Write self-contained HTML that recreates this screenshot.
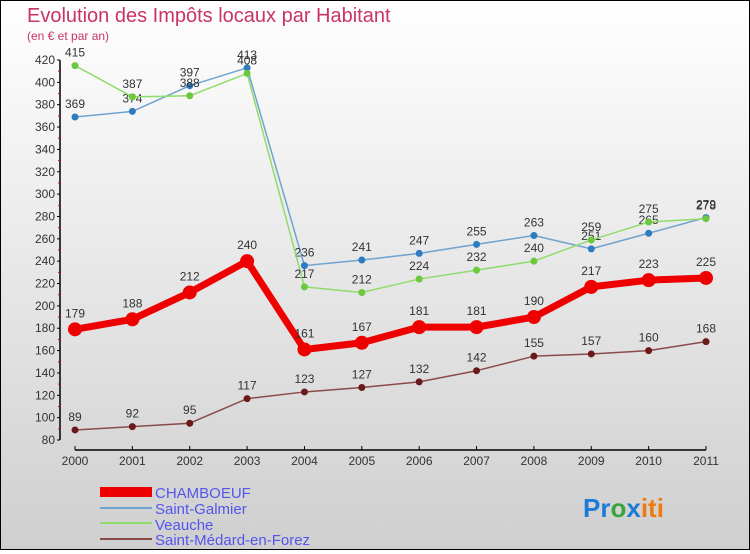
<!DOCTYPE html>
<html><head><meta charset="utf-8">
<style>
html,body{margin:0;padding:0}
body{width:750px;height:550px;overflow:hidden;font-family:"Liberation Sans",sans-serif}
#wrap{position:relative;width:748px;height:548px;border:1px solid #000;background:linear-gradient(#ffffff,#cfcfcf)}
</style></head><body>
<div id="wrap">
<svg id="chart" width="748" height="548" viewBox="1 1 748 548">
<text x="27" y="22" font-size="20" fill="#c8336a">Evolution des Impôts locaux par Habitant</text>
<text x="27" y="40" font-size="12" fill="#c8336a">(en € et par an)</text>
<g id="axes"></g>
<g id="series"></g>
<g id="legend">
<rect x="100" y="487" width="52" height="10" fill="#e00"/>
<text x="155" y="498" font-size="15" fill="#5555ee">CHAMBOEUF</text>
<rect x="100" y="507" width="52" height="2" fill="#6fa3d0"/>
<text x="155" y="514" font-size="15" fill="#5555ee">Saint-Galmier</text>
<rect x="100" y="522" width="52" height="2" fill="#8fdc6c"/>
<text x="155" y="530" font-size="15" fill="#5555ee">Veauche</text>
<rect x="100" y="538" width="52" height="2" fill="#8a4a4a"/>
<text x="155" y="545" font-size="15" fill="#5555ee">Saint-Médard-en-Forez</text>
</g>
<text x="583" y="517" font-size="26" font-weight="bold"><tspan fill="#1e7ad8">Pr</tspan><tspan fill="#3aa53a">o</tspan><tspan fill="#1e7ad8">x</tspan><tspan fill="#f07a10">iti</tspan></text>
</svg>
</div>
<script>
const years=["2000","2001","2002","2003","2004","2005","2006","2007","2008","2009","2010","2011"];
const yTicks=[80,100,120,140,160,180,200,220,240,260,280,300,320,340,360,380,400,420];
const chamboeuf=[179,188,212,240,161,167,181,181,190,217,223,225];
const saintGalmier=[369,374,397,413,236,241,247,255,263,251,265,279];
const veauche=[415,387,388,408,217,212,224,232,240,259,275,278];
const saintMedard=[89,92,95,117,123,127,132,142,155,157,160,168];
const NS="http://www.w3.org/2000/svg";
function X(i){return 75+i*(706-75)/(years.length-1);}
function Y(v){return 440-(v-80)*380/340;}
function mk(tag,attrs,parent){const e=document.createElementNS(NS,tag);for(const k in attrs)e.setAttribute(k,attrs[k]);parent.appendChild(e);return e;}
const ax=document.getElementById('axes');
let e=mk('line',{x1:60,y1:Y(420),x2:60,y2:440,stroke:'#000','stroke-width':1.5},ax);


e=mk('line',{x1:75,y1:450,x2:706,y2:450,stroke:'#000','stroke-width':1.5},ax);


yTicks.forEach((t,i)=>{
 mk('line',{x1:57,y1:Y(t),x2:60,y2:Y(t),stroke:'#000'},ax);
 if(i<yTicks.length-1)mk('line',{x1:58,y1:Y(t+10),x2:60,y2:Y(t+10),stroke:'#d00'},ax);
 const tx=mk('text',{x:55,y:Y(t)+4,'font-size':12,fill:'#333','text-anchor':'end'},ax);
 tx.textContent=t;
 
 
});
years.forEach((y,i)=>{
 mk('line',{x1:X(i),y1:446,x2:X(i),y2:450,stroke:'#000'},ax);
 const tx=mk('text',{x:X(i),y:465,'font-size':12,fill:'#333','text-anchor':'middle'},ax);
 tx.textContent=y;
 
 
});
const sg=document.getElementById('series');
function draw(vals,color,dot,w,r,name){
 const g=mk('g',{},sg);
 
 
 const p=mk('polyline',{points:vals.map((v,i)=>X(i)+','+Y(v)).join(' '),fill:'none',stroke:color,'stroke-width':w,'stroke-linejoin':'round'},g);
 
 
 vals.forEach((v,i)=>{
  const c=mk('circle',{cx:X(i),cy:Y(v),r:r,fill:dot},g);
  
  
  const t=mk('text',{x:X(i),y:Y(v)-9-(r>4?3:0),'font-size':12,fill:'#333','text-anchor':'middle'},g);
  t.textContent=v;
  
  
 });
}
draw(saintMedard,'#8a4a4a','#6a1a1a',1.5,3.5,'saint-medard-en-forez');
draw(chamboeuf,'#ee0000','#ee0000',7,7,'chamboeuf');
draw(saintGalmier,'#6fa3d0','#2e7cc0',1.5,3.5,'saint-galmier');
draw(veauche,'#8fdc6c','#6cc83c',1.5,3.5,'veauche');
</script>
</body></html>
